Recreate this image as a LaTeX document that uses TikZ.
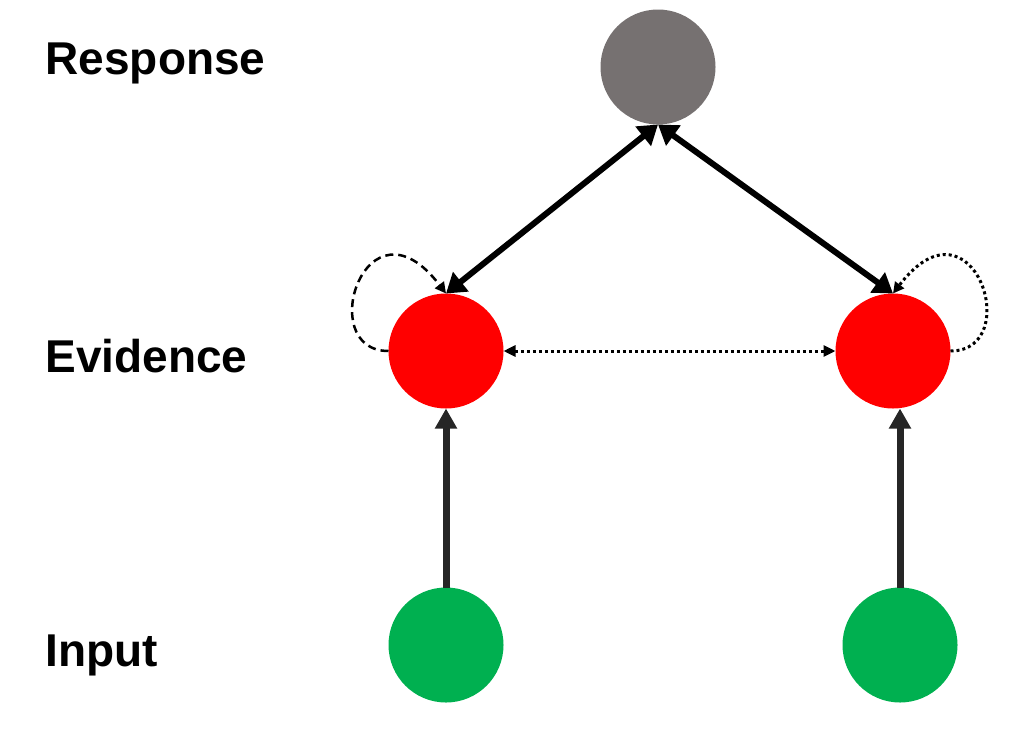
\documentclass[tikz,border=0pt]{standalone}
\usepackage{fontspec}
\setmainfont{Liberation Sans}
\usetikzlibrary{arrows.meta}

\definecolor{respgray}{HTML}{767171}
\definecolor{evred}{HTML}{FF0000}
\definecolor{ingreen}{HTML}{00B050}
\definecolor{darkline}{HTML}{262626}

\tikzset{
    unit/.style={circle,minimum size=115pt,inner sep=0pt,outer sep=0pt},
    layer/.style={anchor=base west,font=\bfseries\fontsize{46}{50}\selectfont},
    link/.style={line width=6pt,{Triangle[width=24pt,length=19pt]}-{Triangle[width=24pt,length=19pt]}},
    feed/.style={line width=7pt,darkline,-{Triangle[width=21pt,length=20pt]}},
    lateral/.style={line width=3pt,dash pattern=on 3pt off 3pt,{Triangle[width=11pt,length=12pt]}-{Triangle[width=11pt,length=12pt]}}
}

\begin{document}
\begin{tikzpicture}[x=1pt,y=-1pt]
    \useasboundingbox (0,0) rectangle (1016,739);

    \node[layer]at(42,74){Response};
    \node[layer]at(42,372){Evidence};
    \node[layer]at(42,666){Input};

    \node[unit,fill=respgray](resp)at(658,67){};
    \node[unit,fill=evred](evL)at(446,351){};
    \node[unit,fill=evred](evR)at(893,351){};
    \node[unit,fill=ingreen](inL)at(446,645){};
    \node[unit,fill=ingreen](inR)at(900,645){};

    \draw[link](evL.north)--(resp.south);
    \draw[link](evR.north)--(resp.south);
    \draw[lateral](evL.east)--(evR.west);

    % recurrent loops
    \draw[line width=2.5pt,dash pattern=on 8pt off 5pt,-{Triangle[width=11pt,length=11pt]}]
        (evL.west)..controls +(-75,0) and +(-80,-105)..(evL.north);
    \draw[line width=3pt,dash pattern=on 3pt off 3pt,-{Triangle[width=11pt,length=11pt]}]
        (evR.east)..controls +(75,0) and +(80,-105)..(evR.north);

    \draw[feed](inL.north)--(evL.south);
    \draw[feed](inR.north)--(inR.north|-evR.south);
\end{tikzpicture}
\end{document}
